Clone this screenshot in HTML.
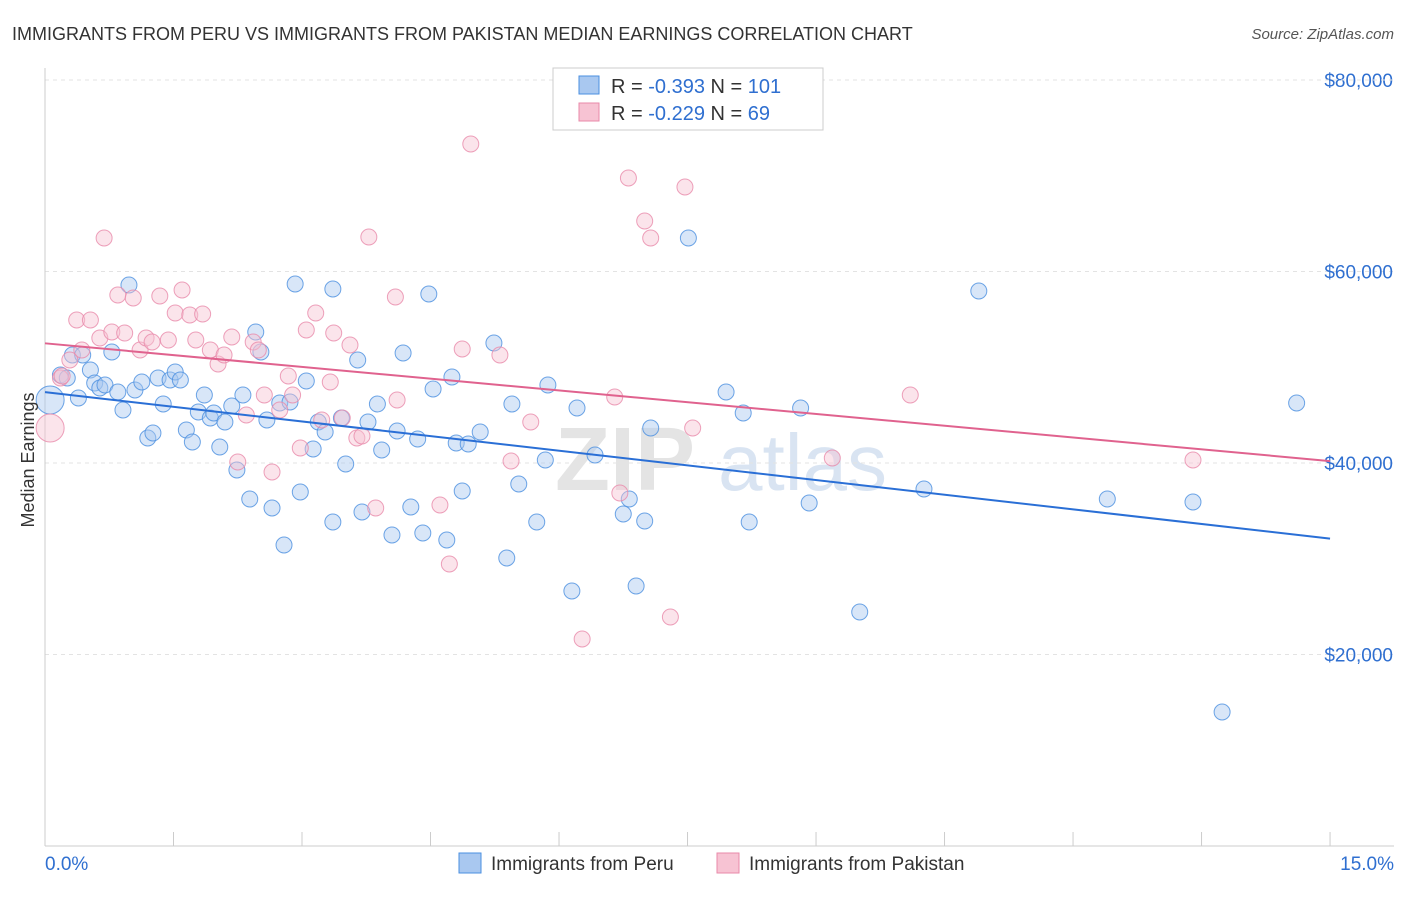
<!DOCTYPE html>
<html><head><meta charset="utf-8"><style>
body{margin:0;background:#fff;font-family:"Liberation Sans",sans-serif;}
svg text{font-family:"Liberation Sans",sans-serif;}
</style></head><body>
<svg id="chart" width="1406" height="892">
<text x="12" y="40" font-size="18" fill="#333">IMMIGRANTS FROM PERU VS IMMIGRANTS FROM PAKISTAN MEDIAN EARNINGS CORRELATION CHART</text>
<text x="1394" y="39" font-size="15" fill="#555" font-style="italic" text-anchor="end">Source: ZipAtlas.com</text>
<text x="555" y="490" font-size="90" fill="#e4e4e4" font-weight="bold">ZIP</text>
<text x="718" y="490" font-size="80" fill="#d9e4f2">atlas</text>
<g id="grid"></g><g id="axes"></g><g id="pts"></g><g id="trend"></g>
<text x="34" y="460" font-size="18" fill="#333" text-anchor="middle" transform="rotate(-90 34 460)">Median Earnings</text>
<g>
<rect x="553" y="68" width="270" height="62" fill="#fff" stroke="#ccc"/>
<rect x="579" y="76" width="20" height="18" fill="#a9c8f0" stroke="#4a8fe0"/>
<text x="611" y="93" font-size="20" fill="#333">R = <tspan fill="#2f6fd0">-0.393</tspan>   N = <tspan fill="#2f6fd0">101</tspan></text>
<rect x="579" y="103" width="20" height="18" fill="#f7c3d3" stroke="#e88aaa"/>
<text x="611" y="120" font-size="20" fill="#333">R = <tspan fill="#2f6fd0">-0.229</tspan>   N =  <tspan fill="#2f6fd0">69</tspan></text>
</g>
<g>
<rect x="459" y="853" width="22" height="20" fill="#a9c8f0" stroke="#4a8fe0"/>
<text x="491" y="870" font-size="19" fill="#333">Immigrants from Peru</text>
<rect x="717" y="853" width="22" height="20" fill="#f7c3d3" stroke="#e88aaa"/>
<text x="749" y="870" font-size="19" fill="#333">Immigrants from Pakistan</text>
</g>
<text x="45" y="870" font-size="19" fill="#2f6fd0">0.0%</text>
<text x="1394" y="870" font-size="19" fill="#2f6fd0" text-anchor="end">15.0%</text>
</svg>
<script>
const yTicks=[20000,40000,60000,80000];
const yTickLabels=["$20,000","$40,000","$60,000","$80,000"];
const bluePx=[[50,400],[60,375],[67,378],[72,355],[78,398],[83,355],[90,370],[95,383],[100,388],[105,385],[112,352],[118,392],[123,410],[129,285],[135,390],[142,382],[148,438],[153,433],[158,378],[163,404],[170,380],[175,372],[180,380],[186,430],[192,442],[198,412],[204,395],[210,418],[214,413],[220,447],[225,422],[232,406],[237,470],[243,395],[250,499],[256,332],[261,352],[267,420],[272,508],[280,403],[284,545],[290,402],[295,284],[300,492],[306,381],[313,449],[318,422],[325,432],[333,522],[333,289],[341,418],[346,464],[358,360],[362,512],[368,422],[377,404],[382,450],[392,535],[397,431],[403,353],[411,507],[418,439],[423,533],[429,294],[433,389],[447,540],[452,377],[456,443],[462,491],[468,444],[480,432],[494,343],[507,558],[512,404],[519,484],[537,522],[545,460],[548,385],[572,591],[577,408],[595,455],[623,514],[629,499],[636,586],[645,521],[651,428],[688,238],[726,392],[743,413],[749,522],[801,408],[809,503],[860,612],[924,489],[979,291],[1107,499],[1193,502],[1222,712],[1297,403]];
const pinkPx=[[50,428],[60,378],[70,360],[77,320],[82,350],[90,320],[100,338],[104,238],[112,332],[118,295],[125,333],[133,298],[140,350],[146,338],[152,342],[160,296],[168,340],[175,313],[182,290],[190,315],[196,340],[203,314],[210,350],[218,364],[224,355],[232,337],[238,462],[246,415],[253,342],[258,350],[264,395],[272,472],[280,410],[288,376],[293,395],[300,448],[306,330],[316,313],[322,420],[330,382],[334,333],[342,418],[350,345],[357,438],[362,436],[369,237],[376,508],[395,297],[397,400],[440,505],[449,564],[462,349],[471,144],[500,355],[511,461],[531,422],[582,639],[615,397],[620,493],[628,178],[645,221],[651,238],[670,617],[685,187],[693,428],[832,458],[910,395],[1193,460],[62,376]];
// data values (x in %, y in $)
const blueX=bluePx.map(p=>+((p[0]-45)/85.67).toFixed(2));
const blueY=bluePx.map(p=>Math.round((846-p[1])/191.5*20000));
const pinkX=pinkPx.map(p=>+((p[0]-45)/85.67).toFixed(2));
const pinkY=pinkPx.map(p=>Math.round((846-p[1])/191.5*20000));
const blueTrend=[[0,47400],[15,32100]];
const pinkTrend=[[0,52500],[15,40200]];
const X=v=>45+v*85.67, Y=v=>846-v/20000*191.5;
const NS="http://www.w3.org/2000/svg";
function mk(t,a,p){const e=document.createElementNS(NS,t);for(const k in a)e.setAttribute(k,a[k]);p.appendChild(e);return e;}
const grid=document.getElementById('grid'),axes=document.getElementById('axes');
yTicks.forEach((v,i)=>{
 const l=mk('line',{x1:45,x2:1394,y1:Y(v),y2:Y(v),stroke:'#e3e3e3','stroke-dasharray':'4,4'},grid);
 
 
 const t=mk('text',{x:1393,y:Y(v)+7,'font-size':19,fill:'#2f6fd0','text-anchor':'end'},grid);
 t.textContent=yTickLabels[i];
 
 
});
mk('line',{x1:45,x2:1394,y1:80,y2:80,stroke:'#e3e3e3','stroke-dasharray':'4,4'},grid);
mk('line',{x1:45,x2:45,y1:68,y2:846,stroke:'#ccc'},axes);
mk('line',{x1:45,x2:1394,y1:846,y2:846,stroke:'#ccc'},axes);
for(let i=0;i<=10;i++){const l=mk('line',{x1:X(i*1.5),x2:X(i*1.5),y1:832,y2:846,stroke:'#ccc'},axes);
 
 }
const pts=document.getElementById('pts');
function plot(xs,ys,fill,stroke,name){xs.forEach((x,i)=>{
 const big=i===0;
 const c=mk('circle',{cx:X(x),cy:Y(ys[i]),r:big?14:8,fill:fill,'fill-opacity':0.45,stroke:stroke,'stroke-opacity':0.8,'stroke-width':1},pts);
 
 
});}
plot(blueX,blueY,'#a9c8f0','#4a8fe0','peru-point');
plot(pinkX,pinkY,'#f7c3d3','#e88aaa','pakistan-point');
const tr=document.getElementById('trend');
const b=mk('line',{x1:X(blueTrend[0][0]),y1:Y(blueTrend[0][1]),x2:X(blueTrend[1][0]),y2:Y(blueTrend[1][1]),stroke:'#2a6fd6','stroke-width':2},tr);


const p=mk('line',{x1:X(pinkTrend[0][0]),y1:Y(pinkTrend[0][1]),x2:X(pinkTrend[1][0]),y2:Y(pinkTrend[1][1]),stroke:'#e0628e','stroke-width':2},tr);


</script>
</body></html>
